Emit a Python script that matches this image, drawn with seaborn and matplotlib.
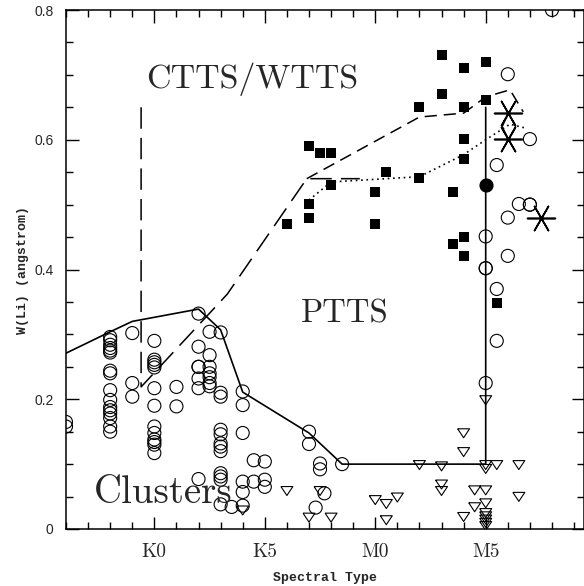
import numpy as np
import seaborn as sns
from matplotlib import pyplot as plt
from matplotlib.ticker import MultipleLocator

# spectral type runs K0 = 0, K5 = 5, M0 = 10, M5 = 15
xtick_pos = [0, 5, 10, 15]
xtick_labels = ["K0", "K5", "M0", "M5"]
ytick_pos = [0, 0.2, 0.4, 0.6, 0.8]
ytick_labels = ["0", "0.2", "0.4", "0.6", "0.8"]

# open circles (cluster stars + a few PTTS), grouped by spectral subclass
circ_cols = [-4, -2, -1, 0, 1, 2, 2.5, 3, 3.5, 4, 4.5, 5,
             7, 7.3, 7.5, 7.7, 8.5, 15, 15.5, 16, 16.5, 17, 18]
circ_vals = [
    [0.165, 0.158],
    [0.296, 0.291, 0.284, 0.279, 0.275, 0.272, 0.244, 0.240, 0.214, 0.199,
     0.188, 0.183, 0.178, 0.171, 0.158, 0.150],
    [0.302, 0.225, 0.204],
    [0.290, 0.261, 0.257, 0.253, 0.249, 0.217, 0.190, 0.158, 0.148, 0.138,
     0.134, 0.130, 0.117],
    [0.219, 0.189],
    [0.332, 0.281, 0.250, 0.250, 0.232, 0.217, 0.077],
    [0.304, 0.268, 0.250, 0.240, 0.234, 0.225, 0.220],
    [0.303, 0.210, 0.204, 0.153, 0.146, 0.132, 0.127, 0.120, 0.086, 0.081,
     0.076, 0.038],
    [0.034],
    [0.212, 0.191, 0.148, 0.073, 0.057, 0.036],
    [0.106, 0.073],
    [0.104, 0.076, 0.065],
    [0.150, 0.131],
    [0.033],
    [0.101, 0.092],
    [0.055],
    [0.100],
    [0.451, 0.402, 0.402, 0.225],
    [0.561, 0.370, 0.290],
    [0.701, 0.480, 0.421],
    [0.501],
    [0.601, 0.500, 0.500],
    [0.800],
]

# filled circle
fcirc_x = [15]
fcirc_y = [0.530]

# filled squares (PTTS)
sq_x = [6, 7, 7, 7, 7.5, 8, 8, 10, 10, 10.5, 12, 12, 13, 13, 13.5, 13.5,
        14, 14, 14, 14, 14, 14, 15, 15, 15.5]
sq_y = [0.470, 0.590, 0.501, 0.480, 0.579, 0.579, 0.530, 0.520, 0.470, 0.550,
        0.650, 0.541, 0.731, 0.670, 0.520, 0.440, 0.710, 0.650, 0.601, 0.570,
        0.450, 0.421, 0.720, 0.661, 0.349]

# upper limits (open down triangles)
tri_x = [4, 6, 7, 7.5, 8, 10, 10.5, 10.5, 11, 12, 13, 13, 13, 14, 14, 14,
         14.5, 14.5, 15, 15, 15, 15, 15, 15, 15, 15, 15, 15, 15.5, 16.5, 16.5]
tri_y = [0.029, 0.059, 0.018, 0.059, 0.018, 0.045, 0.039, 0.014, 0.049, 0.099,
         0.097, 0.069, 0.059, 0.148, 0.119, 0.019, 0.060, 0.034, 0.199, 0.099,
         0.093, 0.060, 0.040, 0.025, 0.020, 0.015, 0.010, 0.005, 0.099, 0.099,
         0.050]

# asterisks
ast_x = [16, 16, 17.5]
ast_y = [0.641, 0.601, 0.479]

# boundary curves
solid_x = [-4, -2, -1, 2, 3, 4, 7, 8.5, 15, 15]
solid_y = [0.271, 0.304, 0.320, 0.339, 0.307, 0.211, 0.148, 0.100, 0.100, 0.650]
longdash_x = [-0.6, -0.6, 3.3, 6.9, 9.3]
longdash_y = [0.650, 0.219, 0.362, 0.540, 0.540]
meddash_x = [6.9, 12, 14, 15, 16.1, 16.7]
meddash_y = [0.540, 0.635, 0.641, 0.666, 0.677, 0.643]
dotted_x = [7, 8, 12, 14, 15, 16.1, 16.8]
dotted_y = [0.507, 0.535, 0.543, 0.577, 0.600, 0.624, 0.618]
diamond_x = [16.03, 15.75, 16.03, 16.35, 16.03]
diamond_y = [0.641, 0.620, 0.601, 0.620, 0.641]

sns.set_style("ticks")
plt.rcParams['font.family'] = ['Liberation Sans', 'DejaVu Sans']

fig = plt.figure(figsize=(5.84, 5.86), dpi=100)
ax = fig.add_axes([66 / 584, 1 - 529 / 586, (584 - 66) / 584, (529 - 10) / 586])

circ_x = np.concatenate([[c] * len(v) for c, v in zip(circ_cols, circ_vals)])
circ_y = np.concatenate(circ_vals)

# lines
sns.lineplot(x=solid_x, y=solid_y, sort=False, estimator=None, color='black',
             linewidth=1.2, ax=ax)
sns.lineplot(x=longdash_x, y=longdash_y, sort=False, estimator=None,
             color='black', linewidth=1.1, linestyle=(0, (14, 6)), ax=ax)
sns.lineplot(x=meddash_x, y=meddash_y, sort=False, estimator=None,
             color='black', linewidth=1.1, linestyle=(0, (8, 4.5)), ax=ax)
sns.lineplot(x=dotted_x, y=dotted_y, sort=False, estimator=None,
             color='black', linewidth=1.2, linestyle=(0, (1, 2.2)), ax=ax)
sns.lineplot(x=diamond_x, y=diamond_y, sort=False, estimator=None,
             color='black', linewidth=0.9, ax=ax)

# points
sns.scatterplot(x=circ_x, y=circ_y, marker='o', s=88, color='none',
                edgecolor='black', linewidth=0.8, ax=ax, legend=False)
sns.scatterplot(x=fcirc_x, y=fcirc_y, marker='o', s=88, color='black',
                edgecolor='black', linewidth=0.8, ax=ax, legend=False)
sns.scatterplot(x=sq_x, y=sq_y, marker='s', s=42, color='black',
                edgecolor='black', linewidth=0, ax=ax, legend=False)
tri = [(-1, 0.7), (1, 0.7), (0, -0.8), (-1, 0.7)]
sns.scatterplot(x=tri_x, y=tri_y, marker=tri, s=74, color='none',
                edgecolor='black', linewidth=0.8, ax=ax, legend=False)
sns.scatterplot(x=ast_x, y=ast_y, marker=(6, 2, 90), s=400, color='black',
                linewidth=1.2, ax=ax, legend=False)

# region labels
ax.text(-0.37, 0.68, "CTTS/WTTS", family='cmr10', fontsize=24.5, va='baseline')
ax.text(6.63, 0.318, "PTTS", family='cmr10', fontsize=23.5, va='baseline')
ax.text(-2.73, 0.0396, "Clusters", family='cmr10', fontsize=28, va='baseline')

ax.set_xlim(-4, 19.45)
ax.set_ylim(0, 0.8)
ax.set_xticks(xtick_pos)
ax.set_xticklabels(xtick_labels, family='cmr10', fontsize=14)
ax.set_yticks(ytick_pos)
ax.set_yticklabels(ytick_labels, fontsize=10)
ax.xaxis.set_minor_locator(MultipleLocator(1))
ax.yaxis.set_minor_locator(MultipleLocator(0.05))
ax.tick_params(which='both', direction='in', top=True, right=True,
               width=1.0, color='black')
ax.tick_params(which='major', length=9)
ax.tick_params(which='minor', length=5)
ax.tick_params(axis='x', which='major', pad=10)
ax.tick_params(axis='y', which='major', pad=9)
for sp in ax.spines.values():
    sp.set_linewidth(1.1)
    sp.set_color('black')

ax.set_xlabel("Spectral Type", family='Liberation Mono', fontweight='bold',
              fontsize=9.5, labelpad=8)
ax.set_ylabel("W(Li) (angstrom)", family='Liberation Mono', fontweight='bold',
              fontsize=9.5, labelpad=4)

fig.savefig("out.png", dpi=100)
